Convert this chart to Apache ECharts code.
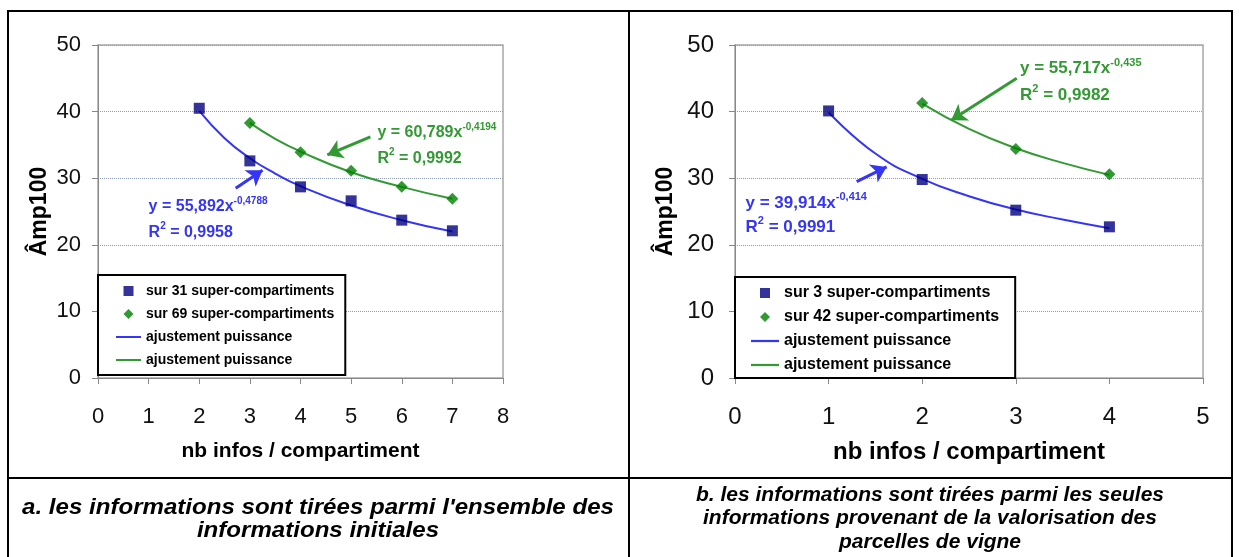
<!DOCTYPE html>
<html lang="fr">

<head>
    <meta charset="UTF-8">
    <style>
        html, body { margin: 0; padding: 0; background: #fff; }
        #main { width: 1239px; height: 557px; }
    </style>
    <title>Amp100</title>
</head>

<body>

    <div id="main"></div>

    <script src="https://cdn.jsdelivr.net/npm/echarts@6/dist/echarts.min.js"></script>
    <script>
        // --- données ---
        // a. ensemble des informations initiales
        var xA_blue = [2, 3, 4, 5, 6, 7];
        var yA_blue = [40.5, 32.6, 28.7, 26.6, 23.7, 22.1];
        var xA_green = [3, 4, 5, 6, 7];
        var yA_green = [38.3, 33.9, 31.1, 28.7, 26.9];
        // courbes d'ajustement
        var xA_fitBlue = [2, 2.5, 3, 3.5, 4, 5, 6, 7];
        var yA_fitBlue = [40.1, 36.0, 33.0, 30.7, 28.8, 25.9, 23.7, 22.0];
        var xA_fitGreen = [3, 3.5, 4, 5, 6, 7];
        var yA_fitGreen = [38.3, 35.9, 34.0, 30.9, 28.7, 26.9];

        // b. informations des parcelles de vigne
        var xB_blue = [1, 2, 3, 4];
        var yB_blue = [40.1, 29.8, 25.2, 22.7];
        var xB_green = [2, 3, 4];
        var yB_green = [41.3, 34.4, 30.6];
        var xB_fitBlue = [1, 1.5, 2, 2.5, 3, 3.5, 4];
        var yB_fitBlue = [39.9, 33.7, 29.9, 27.3, 25.3, 23.8, 22.5];
        var xB_fitGreen = [2, 2.5, 3, 3.5, 4];
        var yB_fitGreen = [41.2, 37.4, 34.5, 32.3, 30.5];

        var namesA = ['sur 31 super-compartiments', 'sur 69 super-compartiments', 'ajustement puissance', 'ajustement puissance '];
        var namesB = ['sur 3 super-compartiments', 'sur 42 super-compartiments', 'ajustement puissance  ', 'ajustement puissance   '];

        var FONT = 'Liberation Sans, Arial, sans-serif';
        var BLUE = '#3535f5', GREEN = '#339933', NAVY = '#000080', DKGREEN = '#008000';

        // icônes de légende (path => proportions conservées)
        var ICON_SQUARE = 'path://M0,0H10V10H0Z';
        var ICON_DIAMOND = 'path://M5,0L10,5L5,10L0,5Z';
        var ICON_LINE = 'path://M0,0H30V2.4H0Z';

        function zip(xs, ys) {
            return xs.map(function (x, i) { return [x, ys[i]]; });
        }

        function xAxisOf(idx, max, fs, margin, gap, nameFs) {
            return {
                gridIndex: idx, type: 'value', min: 0, max: max, interval: 1,
                name: 'nb infos / compartiment', nameLocation: 'middle', nameGap: gap,
                nameTextStyle: { fontSize: nameFs, fontWeight: 'bold', color: '#000', fontFamily: FONT },
                axisLine: { lineStyle: { color: '#888', width: 1 } },
                axisTick: { show: true, length: 6, lineStyle: { color: '#888' } },
                axisLabel: { fontSize: fs, color: '#111', margin: margin, fontFamily: FONT },
                splitLine: { show: false }
            };
        }

        function yAxisOf(idx, fs, margin, gap) {
            return {
                gridIndex: idx, type: 'value', min: 0, max: 50, interval: 10,
                name: 'Âmp100', nameLocation: 'middle', nameGap: gap,
                nameTextStyle: { fontSize: 23, fontWeight: 'bold', color: '#000', fontFamily: FONT },
                axisLine: { show: true, lineStyle: { color: '#888', width: 1 } },
                axisTick: { show: true, length: 6, lineStyle: { color: '#888' } },
                axisLabel: { fontSize: fs, color: '#111', margin: margin, fontFamily: FONT },
                splitLine: { show: true, lineStyle: { color: '#8e9cb8', type: 'dotted', width: 1 } }
            };
        }

        function legendOf(left, top, names, fs, iw, gap, pad) {
            return {
                left: left, top: top, orient: 'vertical',
                itemWidth: iw, itemHeight: 10, itemGap: gap,
                padding: pad, borderColor: '#000', borderWidth: 2, backgroundColor: '#fff',
                textStyle: { fontSize: fs, fontWeight: 'bold', color: '#000', fontFamily: FONT },
                data: [
                    { name: names[0], icon: ICON_SQUARE },
                    { name: names[1], icon: ICON_DIAMOND },
                    { name: names[2], icon: ICON_LINE },
                    { name: names[3], icon: ICON_LINE }
                ]
            };
        }

        function note(coord, color, fs, ss, main, sup, after) {
            var txt = '{b|' + main + '}{s|' + sup + '}' + (after ? '{b|' + after + '}' : '');
            return {
                coord: coord,
                label: {
                    show: true, position: 'right', distance: 0, formatter: txt,
                    rich: {
                        b: { fontSize: fs, fontWeight: 'bold', color: color, fontFamily: FONT, lineHeight: fs + 5 },
                        s: { fontSize: ss, fontWeight: 'bold', color: color, fontFamily: FONT, verticalAlign: 'top' }
                    }
                }
            };
        }

        function arrow(from, to, color) {
            return {
                silent: true, symbol: ['none', 'arrow'], symbolSize: 15,
                lineStyle: { color: color, width: 3, type: 'solid' },
                label: { show: false }, emphasis: { disabled: true },
                data: [[{ coord: from }, { coord: to }]]
            };
        }

        function marks(notes) {
            return {
                silent: true, symbol: 'circle', symbolSize: 1,
                itemStyle: { color: 'transparent' },
                data: notes
            };
        }

        var series = [
            // --- a ---
            {
                name: namesA[2], type: 'line', xAxisIndex: 0, yAxisIndex: 0, smooth: true, symbol: 'none',
                data: zip(xA_fitBlue, yA_fitBlue), lineStyle: { color: BLUE, width: 2 }, itemStyle: { color: BLUE }, z: 2,
                markLine: arrow([2.72, 28.5], [3.25, 31.2], BLUE),
                markPoint: marks([
                    note([0.99, 25.7], BLUE, 16, 10, 'y = 55,892x', '-0,4788'),
                    note([0.99, 21.9], BLUE, 16, 10, 'R', '2', ' = 0,9958')
                ])
            },
            {
                name: namesA[3], type: 'line', xAxisIndex: 0, yAxisIndex: 0, smooth: true, symbol: 'none',
                data: zip(xA_fitGreen, yA_fitGreen), lineStyle: { color: GREEN, width: 2 }, itemStyle: { color: GREEN }, z: 2,
                markLine: arrow([5.38, 36.2], [4.53, 33.5], GREEN),
                markPoint: marks([
                    note([5.51, 36.8], GREEN, 16, 10, 'y = 60,789x', '-0,4194'),
                    note([5.51, 33.0], GREEN, 16, 10, 'R', '2', ' = 0,9992')
                ])
            },
            {
                name: namesA[0], type: 'scatter', xAxisIndex: 0, yAxisIndex: 0, symbol: 'rect', symbolSize: 11,
                data: zip(xA_blue, yA_blue), itemStyle: { color: NAVY }, z: 3
            },
            {
                name: namesA[1], type: 'scatter', xAxisIndex: 0, yAxisIndex: 0, symbol: 'diamond', symbolSize: 12,
                data: zip(xA_green, yA_green), itemStyle: { color: DKGREEN }, z: 3
            },
            // --- b ---
            {
                name: namesB[2], type: 'line', xAxisIndex: 1, yAxisIndex: 1, smooth: true, symbol: 'none',
                data: zip(xB_fitBlue, yB_fitBlue), lineStyle: { color: BLUE, width: 2 }, itemStyle: { color: BLUE }, z: 2,
                markLine: arrow([1.30, 29.5], [1.62, 31.7], BLUE),
                markPoint: marks([
                    note([0.107, 26.3], BLUE, 17, 11, 'y = 39,914x', '-0,414'),
                    note([0.107, 22.7], BLUE, 17, 11, 'R', '2', ' = 0,9991')
                ])
            },
            {
                name: namesB[3], type: 'line', xAxisIndex: 1, yAxisIndex: 1, smooth: true, symbol: 'none',
                data: zip(xB_fitGreen, yB_fitGreen), lineStyle: { color: GREEN, width: 2 }, itemStyle: { color: GREEN }, z: 2,
                markLine: arrow([3.01, 45.0], [2.31, 38.7], GREEN),
                markPoint: marks([
                    note([3.04, 46.5], GREEN, 17, 11, 'y = 55,717x', '-0,435'),
                    note([3.04, 42.5], GREEN, 17, 11, 'R', '2', ' = 0,9982')
                ])
            },
            {
                name: namesB[0], type: 'scatter', xAxisIndex: 1, yAxisIndex: 1, symbol: 'rect', symbolSize: 11,
                data: zip(xB_blue, yB_blue), itemStyle: { color: NAVY }, z: 3
            },
            {
                name: namesB[1], type: 'scatter', xAxisIndex: 1, yAxisIndex: 1, symbol: 'diamond', symbolSize: 12,
                data: zip(xB_green, yB_green), itemStyle: { color: DKGREEN }, z: 3
            }
        ];

        function hline(x1, x2, y) {
            return { type: 'line', silent: true, shape: { x1: x1, y1: y, x2: x2, y2: y }, style: { stroke: '#000', lineWidth: 2 } };
        }
        function vline(x, y1, y2) {
            return { type: 'line', silent: true, shape: { x1: x, y1: y1, x2: x, y2: y2 }, style: { stroke: '#000', lineWidth: 2 } };
        }
        function caption(x, y, text, fs, sx) {
            return {
                type: 'text', silent: true, x: x, y: y, scaleX: sx,
                style: {
                    text: text, align: 'center', verticalAlign: 'middle', fill: '#000',
                    fontSize: fs, fontWeight: 'bold', fontStyle: 'italic', fontFamily: FONT, lineHeight: 23.5
                }
            };
        }

        var myChart = echarts.init(document.getElementById('main'));

        var option = {
            animation: false,
            textStyle: { fontFamily: FONT },
            grid: [
                { left: 98, top: 45, width: 405, height: 333, show: true, borderColor: '#a8a8a8', borderWidth: 1.5 },
                { left: 735, top: 45, width: 468, height: 333, show: true, borderColor: '#a8a8a8', borderWidth: 1.5 }
            ],
            xAxis: [xAxisOf(0, 8, 22, 28, 63, 21), xAxisOf(1, 5, 24, 27, 62, 24)],
            yAxis: [yAxisOf(0, 22, 17, 47), yAxisOf(1, 24, 21, 58)],
            legend: [
                legendOf(98, 275, namesA, 14, 25, 9, [9, 11, 8, 18]),
                legendOf(735, 277, namesB, 16, 28, 8, [8, 16, 5, 16])
            ],
            series: series,
            graphic: [
                hline(7, 1233, 11),
                hline(7, 1233, 478),
                vline(8, 10, 557),
                vline(629, 10, 557),
                vline(1232, 10, 557),
                caption(318, 519.5, "a. les informations sont tirées parmi l'ensemble des\ninformations initiales", 21.5, 1.12),
                caption(930, 518.5, 'b. les informations sont tirées parmi les seules\ninformations provenant de la valorisation des\nparcelles de vigne', 21, 1)
            ]
        };

        myChart.setOption(option);
    </script>
</body>

</html>
